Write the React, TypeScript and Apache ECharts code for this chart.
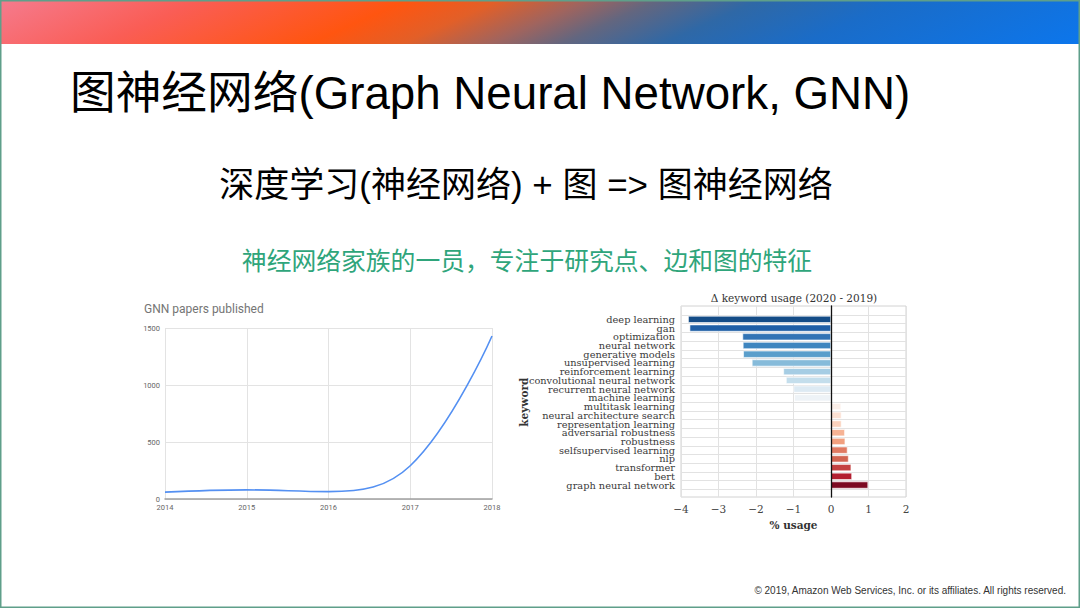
import React, { useEffect, useRef } from "react";
import * as echarts from "echarts";

const years = [2014, 2015, 2016, 2017, 2018];
const papers = [60, 80, 65, 292, 1430];

const keywords = [
  "deep learning",
  "gan",
  "optimization",
  "neural network",
  "generative models",
  "unsupervised learning",
  "reinforcement learning",
  "convolutional neural network",
  "recurrent neural network",
  "machine learning",
  "multitask learning",
  "neural architecture search",
  "representation learning",
  "adversarial robustness",
  "robustness",
  "selfsupervised learning",
  "nlp",
  "transformer",
  "bert",
  "graph neural network",
];
const usageDelta = [
  -3.81, -3.77, -2.36, -2.35, -2.34, -2.11, -1.27, -1.2, -1.0, -0.98, 0.27, 0.28,
  0.28, 0.37, 0.38, 0.44, 0.47, 0.54, 0.56, 0.99,
];
const barColors = [
  "#144c87", "#1f5fa6", "#3274b5", "#3f86bf", "#5a9ecb", "#86bbda", "#a6cde4",
  "#c4deec", "#ddeaf3", "#eef3f7", "#faeee8", "#fce1d3", "#fbd1bc", "#f6b394",
  "#f1a07f", "#e07a62", "#d26451", "#c44242", "#b31f30", "#7c0a22",
];

const SANS = '"Liberation Sans", Arial, "Noto Sans CJK SC", sans-serif';
const SERIF = '"DejaVu Serif", serif';

export default function App() {
  const ref = useRef<HTMLDivElement>(null);
  useEffect(() => {
    document.body.style.margin = "0";
    const chart = echarts.init(ref.current!, null, { renderer: "svg" });
    const minus = (v: number) => (v < 0 ? "\u2212" + Math.abs(v) : String(v));
    const option: any = {
      animation: false,
      backgroundColor: "#ffffff",
      grid: [
        { left: 165, top: 328, width: 327, height: 171 },
        {
          left: 681, top: 306, width: 225, height: 191,
          show: true, borderColor: "#d2d2d2", borderWidth: 1,
        },
        { left: 681, top: 315, width: 225, height: 174.4 },
      ],
      xAxis: [
        {
          gridIndex: 0, type: "value", min: 2014, max: 2018, interval: 1,
          axisLine: { show: true, lineStyle: { color: "#a0a0a0", width: 1.5 } },
          axisTick: { show: false },
          axisLabel: {
            formatter: (v: number) => String(v), fontSize: 7.5, color: "#666",
            margin: 4, fontFamily: "Roboto, sans-serif",
          },
          splitLine: { show: true, lineStyle: { color: "#e3e3e3" } },
        },
        {
          gridIndex: 1, type: "value", min: -4, max: 2, interval: 1,
          axisLine: { show: false, onZero: false },
          axisTick: { show: false },
          axisLabel: {
            formatter: minus, fontSize: 10.5, color: "#444", margin: 6,
            fontFamily: SERIF,
          },
          splitLine: { show: true, lineStyle: { color: "#e2e2e2", width: 1 } },
          name: "% usage", nameLocation: "middle", nameGap: 22,
          nameTextStyle: { fontFamily: SERIF, fontWeight: "bold", fontSize: 10.5, color: "#333" },
        },
        { gridIndex: 2, type: "value", min: -4, max: 2, show: false },
      ],
      yAxis: [
        {
          gridIndex: 0, type: "value", min: 0, max: 1500, interval: 500,
          axisLine: { show: false }, axisTick: { show: false },
          axisLabel: {
            formatter: (v: number) => String(v),
            fontSize: 7.5, color: "#666", margin: 5, fontFamily: "Roboto, sans-serif",
          },
          splitLine: { show: true, lineStyle: { color: "#e3e3e3" } },
        },
        {
          gridIndex: 1, type: "value", min: 0, max: 1, z: 5,
          axisLine: { show: true, onZero: true, lineStyle: { color: "#111", width: 1.3 } },
          axisTick: { show: false }, axisLabel: { show: false }, splitLine: { show: false },
        },
        {
          gridIndex: 2, type: "category", data: keywords, inverse: true,
          axisLine: { show: false }, axisTick: { show: false },
          axisLabel: {
            fontSize: 9.8, color: "#3a3a3a", margin: 6, fontFamily: SERIF,
            interval: 0, lineHeight: 9,
          },
          splitLine: { show: true, interval: 0, lineStyle: { color: "#e2e2e2" } },
          name: "keyword", nameLocation: "middle", nameRotate: 90, nameGap: 152,
          nameMoveOverlap: false,
          nameTextStyle: { fontFamily: SERIF, fontWeight: "bold", fontSize: 10.5, color: "#333" },
        },
      ],
      series: [
        {
          type: "line", xAxisIndex: 0, yAxisIndex: 0,
          data: years.map((y, i) => [y, papers[i]]),
          smooth: 0.4, symbol: "none",
          lineStyle: { color: "#5490f2", width: 1.6 },
        },
        {
          type: "bar", xAxisIndex: 2, yAxisIndex: 2, barWidth: "80%",
          data: usageDelta.map((v, i) => ({
            value: v,
            itemStyle: { color: barColors[i], borderColor: "#ffffff", borderWidth: 0.6 },
          })),
        },
      ],
      graphic: [
        {
          type: "rect", z: 10,
          shape: { x: 0, y: 0, width: 1080, height: 44 },
          style: {
            fill: new echarts.graphic.LinearGradient(0, 0, 198, 440, [
              { offset: 0, color: "#f57b8e" },
              { offset: 0.17, color: "#fa5d55" },
              { offset: 0.346, color: "#ff5510" },
              { offset: 0.425, color: "#e25f28" },
              { offset: 0.5, color: "#a0645e" },
              { offset: 0.56, color: "#63667f" },
              { offset: 0.646, color: "#2f68a6" },
              { offset: 0.765, color: "#1a6cc8" },
              { offset: 1, color: "#0c76ec" },
            ], true),
          },
        },
        {
          type: "text", x: 70, y: 93, z: 10,
          style: {
            text: "图神经网络(Graph Neural Network, GNN)",
            fontSize: 45.7, fontFamily: SANS, fill: "#000",
            align: "left", verticalAlign: "middle",
          },
        },
        {
          type: "text", x: 526, y: 184, z: 10,
          style: {
            text: "深度学习(神经网络) + 图 => 图神经网络",
            fontSize: 35, fontFamily: SANS, fill: "#000",
            align: "center", verticalAlign: "middle",
          },
        },
        {
          type: "text", x: 527, y: 261, z: 10,
          style: {
            text: "神经网络家族的一员，专注于研究点、边和图的特征",
            fontSize: 24.8, fontFamily: SANS, fill: "#2fa57b",
            align: "center", verticalAlign: "middle",
          },
        },
        {
          type: "text", x: 144, y: 309, z: 10,
          style: {
            text: "GNN papers published",
            fontSize: 12, fontFamily: "Roboto, sans-serif", fill: "#757575",
            align: "left", verticalAlign: "middle",
          },
        },
        {
          type: "text", x: 794, y: 298, z: 10,
          style: {
            text: "\u0394 keyword usage (2020 - 2019)",
            fontSize: 10.5, fontFamily: SERIF, fill: "#333",
            align: "center", verticalAlign: "middle",
          },
        },
        {
          type: "text", x: 1066, y: 590, z: 10,
          style: {
            text: "© 2019, Amazon Web Services, Inc. or its affiliates. All rights reserved.",
            fontSize: 10, fontFamily: SANS, fill: "#333",
            align: "right", verticalAlign: "middle",
          },
        },
        {
          type: "rect", z: 20, silent: true,
          shape: { x: 0.75, y: 0.75, width: 1078.5, height: 606.5 },
          style: { fill: "none", stroke: "#5f9f8a", lineWidth: 1.5 },
        },
      ],
    };
    chart.setOption(option);
    return () => chart.dispose();
  }, []);
  return <div ref={ref} style={{ width: 1080, height: 608 }} />;
}
